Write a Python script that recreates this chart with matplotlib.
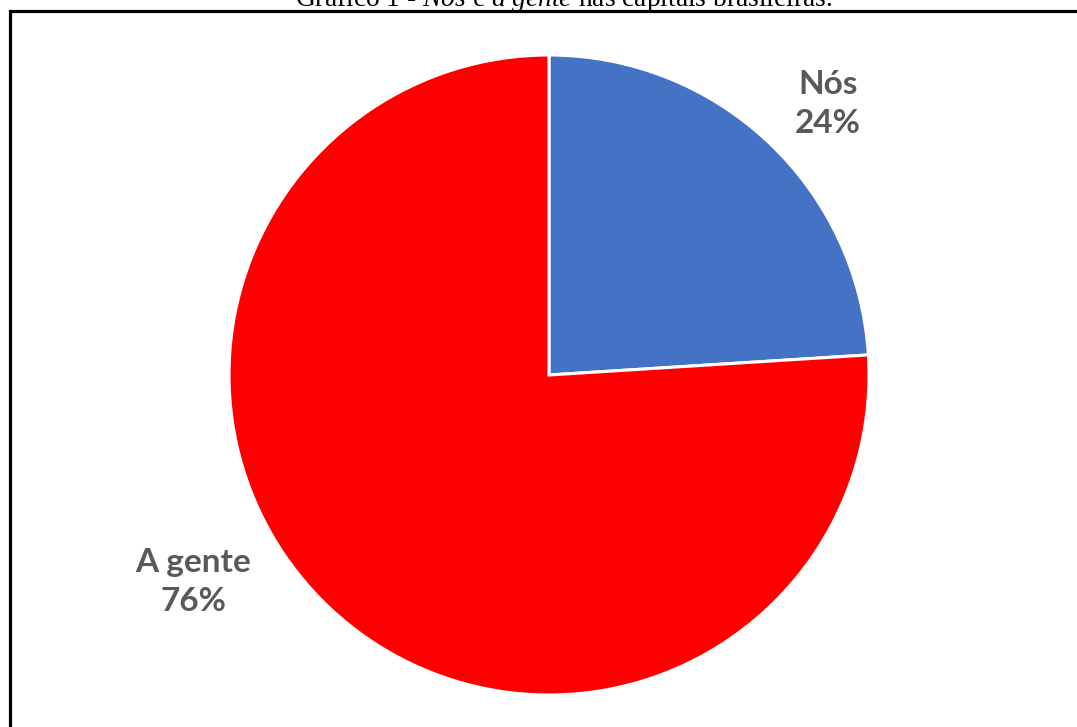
import matplotlib.pyplot as plt
from matplotlib.patches import Rectangle

# dados do gráfico
categorias = ['Nós', 'A gente']
percentuais = [24, 76]
cores = ['#4472C4', '#FF0000']

W, H = 1077, 727
fig = plt.figure(figsize=(W / 100, H / 100), dpi=100)
fig.patch.set_facecolor('white')

ax = fig.add_axes([0, 0, 1, 1])

# pizza: começa em 90 graus e segue no sentido horário
cx, cy, r = 549, H - 375, 320
ax.pie(percentuais, colors=cores, startangle=90, counterclock=False,
       center=(cx, cy), radius=r, frame=True,
       wedgeprops=dict(edgecolor='white', linewidth=2.2))
ax.set_xlim(0, W)
ax.set_ylim(0, H)
ax.set_aspect('equal')
ax.axis('off')

# rótulos das fatias
rotulos = [f'{c}\n{p}%' for c, p in zip(categorias, percentuais)]
pos_rotulos = [(828, H - 104), (193, H - 582)]
for txt, (x, y) in zip(rotulos, pos_rotulos):
    ax.text(x, y, txt, ha='center', va='center', fontsize=24,
            fontfamily='Lato', fontweight='bold', color='#595959',
            linespacing=1.45)

# moldura
ax.add_patch(Rectangle((9.5, -50), W + 50, H - 11 + 50, fill=False,
                       edgecolor='black', linewidth=2.3, clip_on=False))

# título
plt.rcParams['mathtext.fontset'] = 'custom'
plt.rcParams['mathtext.rm'] = 'Liberation Serif'
plt.rcParams['mathtext.it'] = 'Liberation Serif:italic'
fig.text(564 / W, (H - 6) / H,
         r'Gráfico 1 - $\mathit{Nós}$ e $\mathit{a\ gente}$ nas capitais brasileiras.',
         ha='center', va='baseline', fontsize=19.8, fontfamily='Liberation Serif')

fig.savefig('out.png', dpi=100)
